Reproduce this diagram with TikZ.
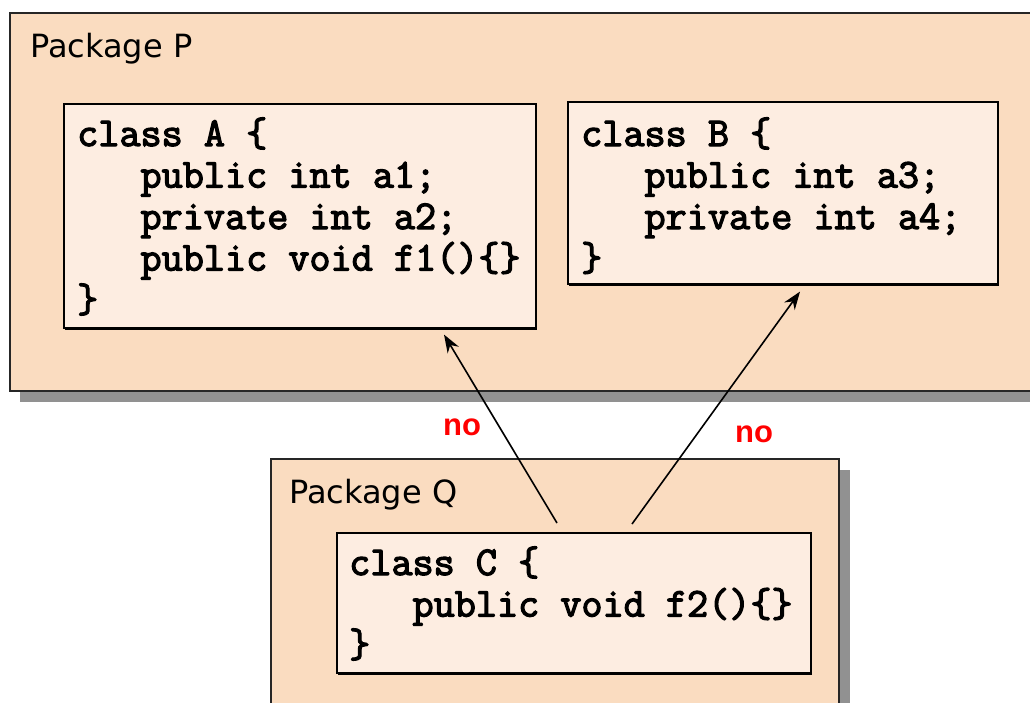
\documentclass[tikz,border=0pt]{standalone}
\usepackage{fontspec}
\usetikzlibrary{calc,arrows.meta}
\newfontfamily\pkgfont{DejaVu Sans}
\newfontfamily\nofont{Liberation Sans}
\newfontfamily\codefont{Latin Modern Mono}[FakeBold=3]
\begin{document}
\begin{tikzpicture}[x=1pt,y=-1pt,
  pkg/.style={draw=black!85,line width=1.6pt,fill=pkgfill,anchor=north west,inner sep=0pt},
  cls/.style={draw=black,line width=1.6pt,fill=clsfill,anchor=north west,inner sep=0pt},
  pkglabel/.style={font=\pkgfont\fontsize{32}{38}\selectfont,anchor=base west,inner sep=0pt},
  code/.style={font=\codefont\fontsize{41}{41.5}\selectfont,anchor=base west,inner sep=0pt},
  nolabel/.style={font=\nofont\bfseries\fontsize{31}{36}\selectfont,text=red,anchor=base west,inner sep=0pt},
  dep/.style={-{Stealth[length=18pt,width=13pt]},line width=1.6pt}]
\definecolor{pkgfill}{RGB}{250,220,192}
\definecolor{clsfill}{RGB}{253,237,225}
\definecolor{shadowgray}{RGB}{145,145,145}
\useasboundingbox (0,0) rectangle (1030,702);
% Package P
\fill[shadowgray] (20,24) rectangle (1045,402);
\node[pkg,minimum width=1040pt,minimum height=378pt] (P) at (9,12) {};
\node[pkglabel] (Plab) at (30,57) {Package P};
% Package Q
\fill[shadowgray] (282,470) rectangle (850,720);
\node[pkg,minimum width=568pt,minimum height=260pt] (Q) at (270,458) {};
\node[pkglabel] (Qlab) at (289,503) {Package Q};
% class A
\fill[black] (65,106) rectangle (537,330);
\node[cls,minimum width=472pt,minimum height=224pt] (A) at (63,103) {};
\node[code] (A1) at (77,146) {class A \{};
\node[code] (A2) at (77,187.5) {\phantom{pub}public int a1;};
\node[code] (A3) at (77,229) {\phantom{pub}private int a2;};
\node[code] (A4) at (77,270.5) {\phantom{pub}public void f1()\{\}};
\node[code] (A5) at (77,312) {\}};
% class B
\fill[black] (569,104) rectangle (999,286);
\node[cls,minimum width=430pt,minimum height=182pt] (B) at (567,101) {};
\node[code] (B1) at (581,146) {class B \{};
\node[code] (B2) at (581,187.5) {\phantom{pub}public int a3;};
\node[code] (B3) at (581,229) {\phantom{pub}private int a4;};
\node[code] (B4) at (581,270.5) {\}};
% class C
\fill[black] (338,535) rectangle (812,675);
\node[cls,minimum width=474pt,minimum height=140pt] (C) at (336,532) {};
\node[code] (C1) at (349,575) {class C \{};
\node[code] (C2) at (349,616.5) {\phantom{pub}public void f2()\{\}};
\node[code] (C3) at (349,657) {\}};
% dependencies
\coordinate (cs1) at ($(C.north west)+(221,-9)$);
\coordinate (cs2) at ($(C.north west)+(296,-8)$);
\coordinate (at) at ($(A.south west)+(381,6)$);
\coordinate (bt) at ($(B.south west)+(233,7)$);
\draw[dep] (cs1) -- (at);
\draw[dep] (cs2) -- (bt);
\node[nolabel] (no1) at (443,435) {no};
\node[nolabel] (no2) at (735,442) {no};
\end{tikzpicture}
\end{document}
